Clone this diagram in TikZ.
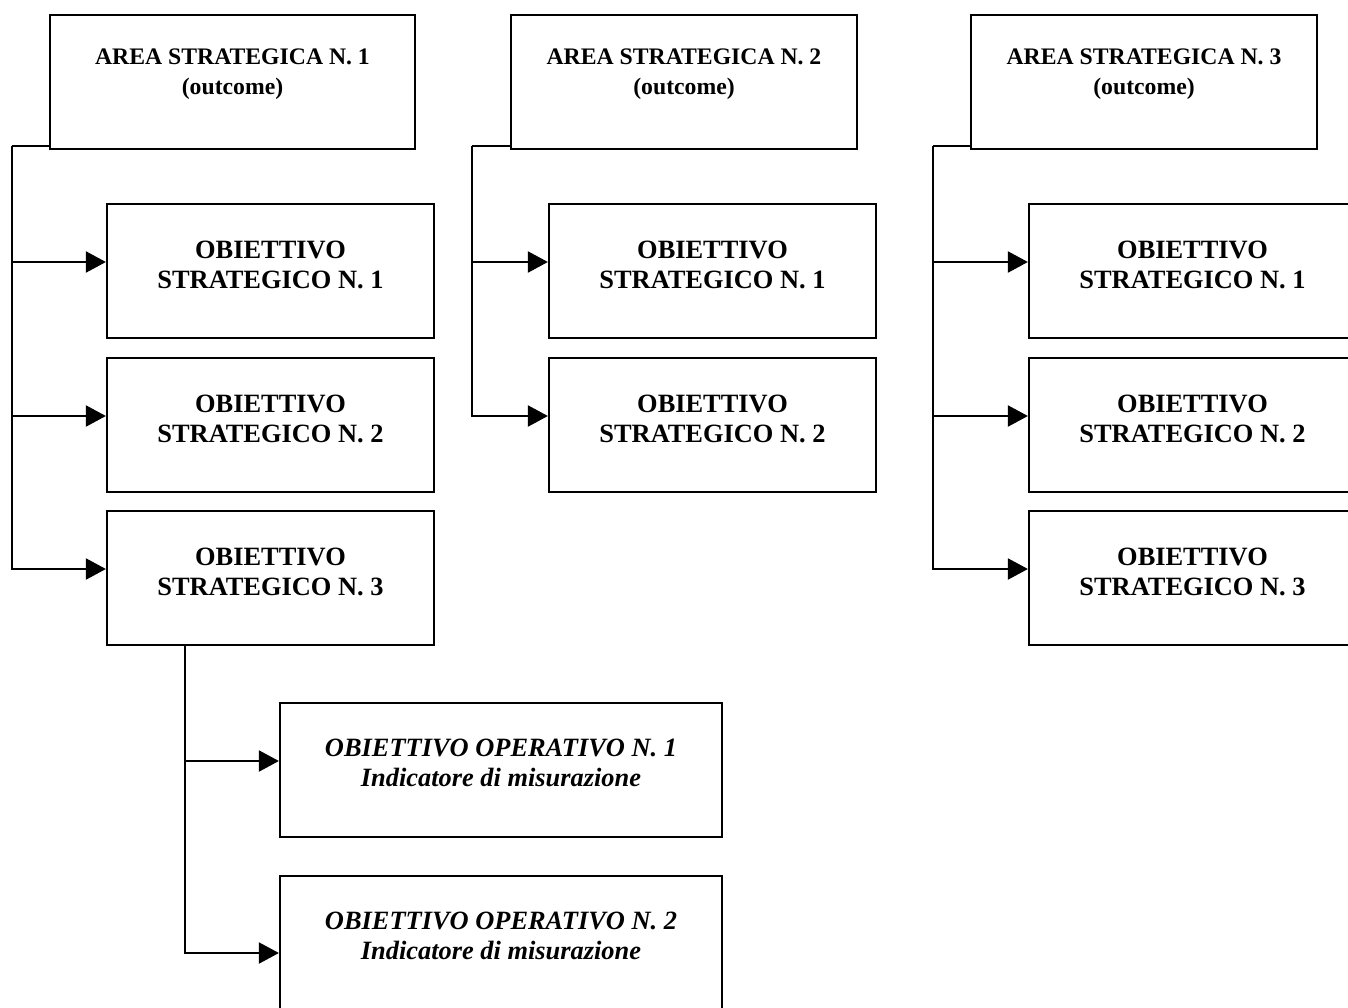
\documentclass[tikz,border=0pt]{standalone}
\usepackage{fontspec}
\setmainfont{Liberation Serif}
\usetikzlibrary{arrows.meta}

\begin{document}
\begin{tikzpicture}[x=0.5pt, y=-0.5pt,
    box/.style={draw, line width=1.1pt, inner sep=0pt, minimum height=67pt},
    areabox/.style={box, minimum width=173pt},
    objbox/.style={box, minimum width=163.5pt},
    opbox/.style={box, minimum width=221pt},
    areatxt/.style={align=center, font=\fontsize{11.85pt}{15pt}\selectfont\bfseries, yshift=4pt},
    objtxt/.style={align=center, font=\fontsize{13.2pt}{14.6pt}\selectfont\bfseries, yshift=3pt},
    optxt/.style={align=center, font=\fontsize{13.2pt}{15pt}\selectfont\bfseries\itshape, yshift=3.5pt},
    link/.style={line width=1pt},
    back/.style={line width=1pt, {Triangle[length=10pt,width=10.5pt]}-}]
    \useasboundingbox (0,0) rectangle (1348,1007);
    \clip (0,0) rectangle (1348,1007);
    % aree strategiche
    \node[areabox, minimum width=182.5pt, label={[areatxt]center:{AREA STRATEGICA N. 1\\(outcome)}}] (a1) at (232.5,82) {};
    \node[areabox, label={[areatxt]center:{AREA STRATEGICA N. 2\\(outcome)}}] (a2) at (684,82) {};
    \node[areabox, label={[areatxt]center:{AREA STRATEGICA N. 3\\(outcome)}}] (a3) at (1144,82) {};
    % obiettivi strategici
    \node[objbox, label={[objtxt]center:{OBIETTIVO\\STRATEGICO N. 1}}] (s11) at (270.5,271) {};
    \node[objbox, label={[objtxt]center:{OBIETTIVO\\STRATEGICO N. 2}}] (s12) at (270.5,425) {};
    \node[objbox, label={[objtxt]center:{OBIETTIVO\\STRATEGICO N. 3}}] (s13) at (270.5,578) {};
    \node[objbox, label={[objtxt]center:{OBIETTIVO\\STRATEGICO N. 1}}] (s21) at (712.5,271) {};
    \node[objbox, label={[objtxt]center:{OBIETTIVO\\STRATEGICO N. 2}}] (s22) at (712.5,425) {};
    \node[objbox, label={[objtxt]center:{OBIETTIVO\\STRATEGICO N. 1}}] (s31) at (1192.5,271) {};
    \node[objbox, label={[objtxt]center:{OBIETTIVO\\STRATEGICO N. 2}}] (s32) at (1192.5,425) {};
    \node[objbox, label={[objtxt]center:{OBIETTIVO\\STRATEGICO N. 3}}] (s33) at (1192.5,578) {};
    % obiettivi operativi
    \node[opbox, label={[optxt]center:{OBIETTIVO OPERATIVO N. 1\\Indicatore di misurazione}}] (o1) at (501,770) {};
    \node[opbox, label={[optxt]center:{OBIETTIVO OPERATIVO N. 2\\Indicatore di misurazione}}] (o2) at (501,943) {};
    % collegamenti
    \coordinate (t1) at (12,146);
    \coordinate (t2) at (472,146);
    \coordinate (t3) at (933,146);
    \coordinate (t4) at (185,645);
    \draw[link] (a1.west |- t1) -- (t1);
    \draw[link] (a2.west |- t2) -- (t2);
    \draw[link] (a3.west |- t3) -- (t3);
    \foreach \s in {s11,s12,s13}
        \draw[back] ([yshift=4.5pt]\s.west) -| (t1);
    \foreach \s in {s21,s22}
        \draw[back] ([yshift=4.5pt]\s.west) -| (t2);
    \foreach \s in {s31,s32,s33}
        \draw[back] ([yshift=4.5pt]\s.west) -| (t3);
    \draw[back] ([yshift=4.5pt]o1.west) -| (t4);
    \draw[back] ([yshift=-5pt]o2.west) -| (t4);
\end{tikzpicture}
\end{document}
